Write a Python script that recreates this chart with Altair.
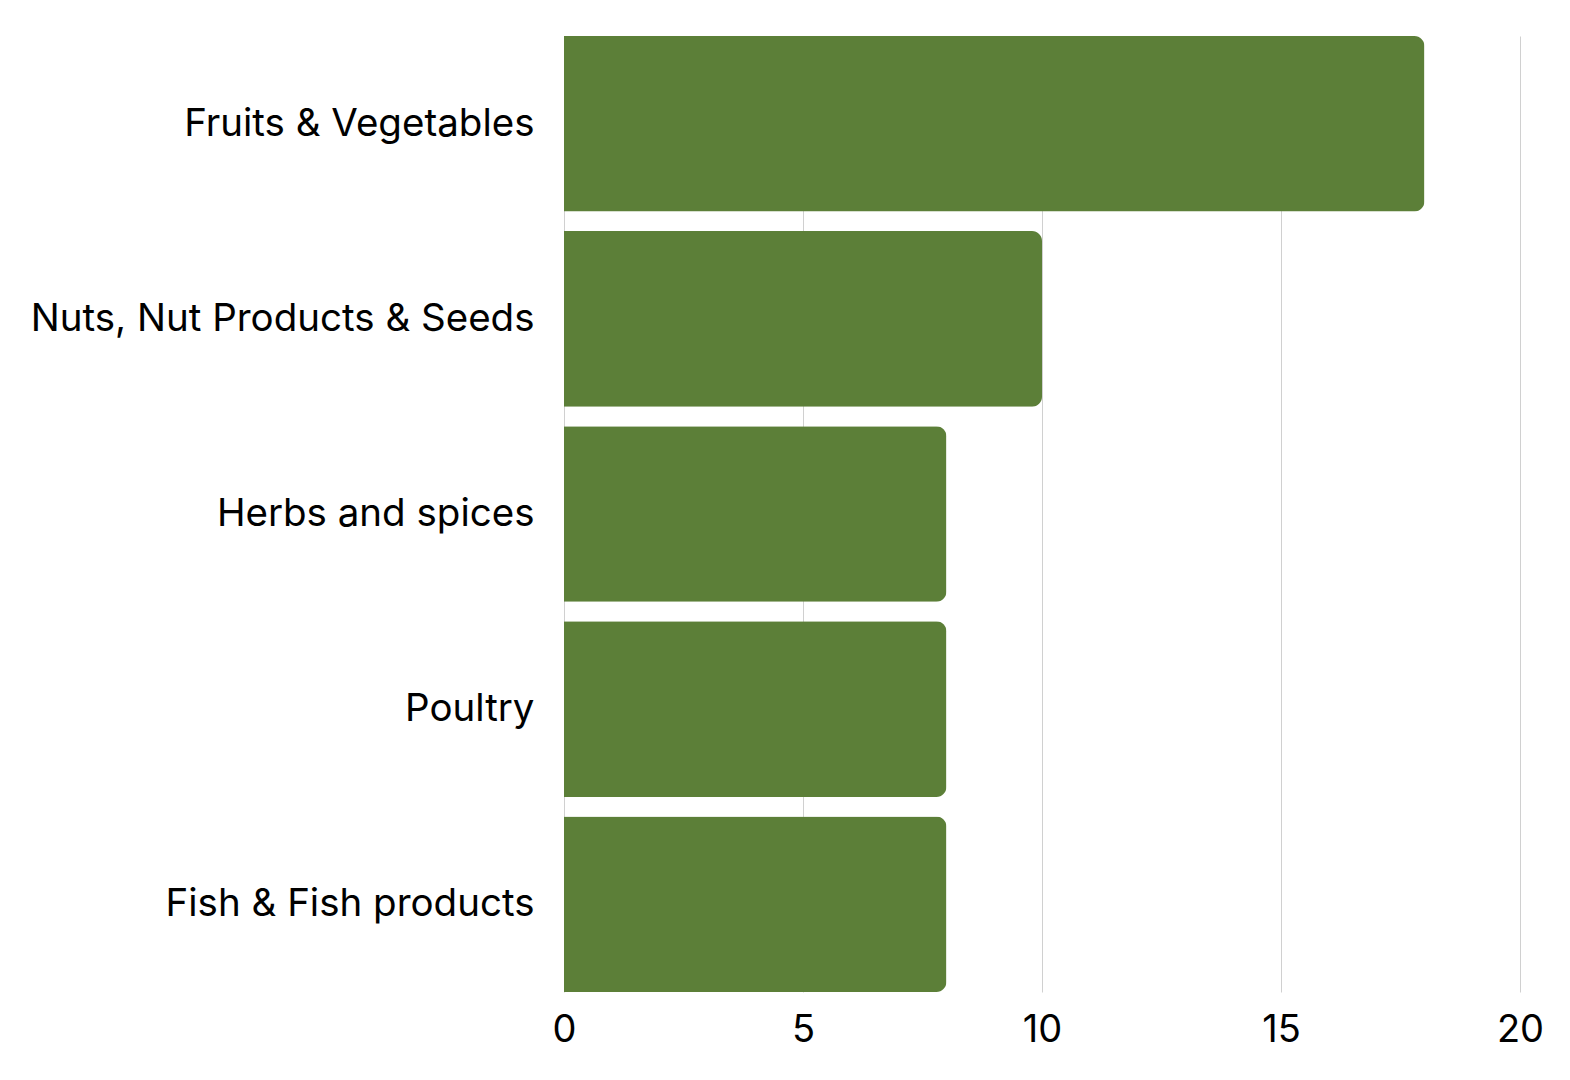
import altair as alt
import pandas as pd

categories = ["Fruits & Vegetables", "Nuts, Nut Products & Seeds", "Herbs and spices", "Poultry", "Fish & Fish products"]
values = [18, 10, 8, 8, 8]

df = pd.DataFrame({"category": categories, "value": values})

chart = alt.Chart(df).mark_bar(
    color="#5c7f38", cornerRadiusTopRight=10, cornerRadiusBottomRight=10
).encode(
    y=alt.Y("category:N", sort=categories, title=None,
            scale=alt.Scale(paddingInner=0.1, paddingOuter=0),
            axis=alt.Axis(labelFont="Inter", labelFontSize=38.5, labelColor="#000000",
                          ticks=False, domain=False, labelPadding=30, labelLimit=600)),
    x=alt.X("value:Q", title=None,
            scale=alt.Scale(domain=[0, 20]),
            axis=alt.Axis(values=[0, 5, 10, 15, 20], labelFont="Inter", labelFontSize=38,
                          labelColor="#000000", ticks=False, domain=False, labelPadding=19,
                          labelFlush=False,
                          grid=True, gridColor="#d0d0d0", gridWidth=1)),
).properties(
    width=956, height=956,
    autosize=alt.AutoSizeParams(type="none"),
    padding={"left": 556, "top": 28, "right": 40, "bottom": 80},
).configure_view(stroke=None)

chart.save("out.html", embed_options={"renderer": "svg", "actions": False})
